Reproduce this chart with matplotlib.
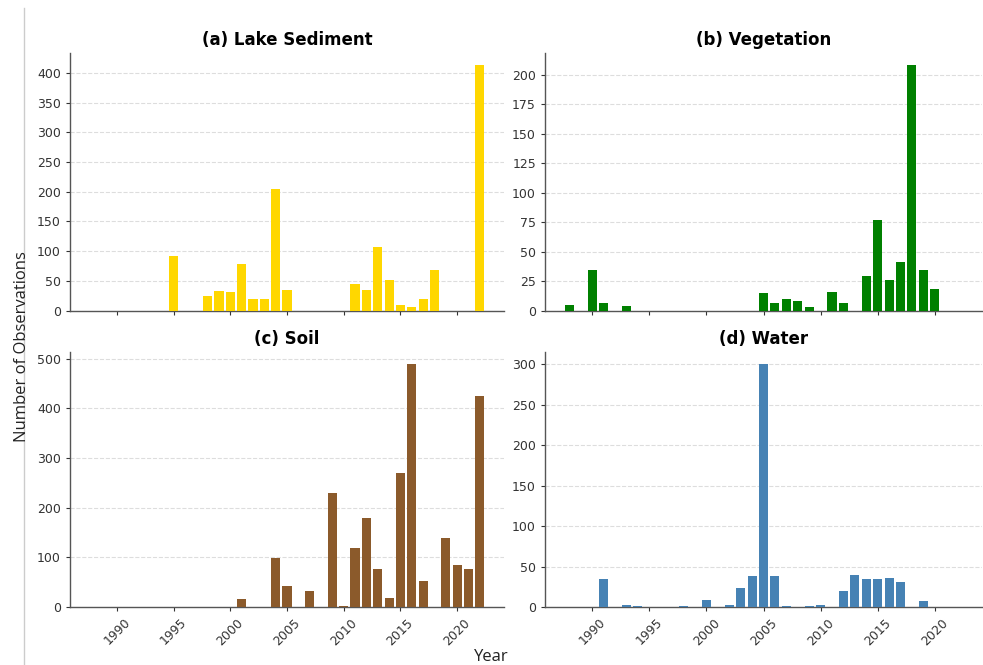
import matplotlib
matplotlib.use("Agg")
import matplotlib.pyplot as plt
from matplotlib.lines import Line2D

# ---- data ----
lake_years = [1995, 1998, 1999, 2000, 2001, 2002, 2003, 2004, 2005,
              2011, 2012, 2013, 2014, 2015, 2016, 2017, 2018, 2022]
lake_vals = [92, 25, 32, 31, 79, 19, 20, 204, 35,
             44, 35, 107, 52, 10, 6, 20, 69, 413]

veg_years = [1988, 1990, 1991, 1993, 2005, 2006, 2007, 2008, 2009,
             2011, 2012, 2014, 2015, 2016, 2017, 2018, 2019, 2020]
veg_vals = [5, 34, 6, 4, 15, 6, 10, 8, 3,
            16, 6, 29, 77, 26, 41, 208, 34, 18]

soil_years = [2001, 2004, 2005, 2007, 2009, 2010, 2011, 2012, 2013,
              2014, 2015, 2016, 2017, 2019, 2020, 2021, 2022]
soil_vals = [17, 99, 43, 32, 230, 3, 119, 180, 77,
             19, 269, 489, 53, 139, 85, 77, 425]

water_years = [1991, 1993, 1994, 1998, 2000, 2002, 2003, 2004, 2005, 2006,
               2007, 2009, 2010, 2012, 2013, 2014, 2015, 2016, 2017, 2019]
water_vals = [34, 3, 1, 1, 9, 2, 24, 38, 300, 38,
              1, 1, 2, 20, 40, 34, 34, 36, 31, 8]

titles = ["(a) Lake Sediment", "(b) Vegetation", "(c) Soil", "(d) Water"]
colors = ["#FFD700", "#008000", "#8B5A2B", "#4682B4"]
xticks = [1990, 1995, 2000, 2005, 2010, 2015, 2020]

W, H = 983, 665
fig = plt.figure(figsize=(W / 100, H / 100), dpi=100)

def box(l, r, t, b):
    return [l / W, 1 - b / H, (r - l) / W, (b - t) / H]

ax_a = fig.add_axes(box(70, 504, 53, 310.5))
ax_b = fig.add_axes(box(545, 982, 53, 310.5), sharex=ax_a)
ax_c = fig.add_axes(box(70, 504, 352, 607), sharex=ax_a)
ax_d = fig.add_axes(box(545, 982, 352, 607), sharex=ax_a)
axes = [ax_a, ax_b, ax_c, ax_d]

series = [(lake_years, lake_vals), (veg_years, veg_vals),
          (soil_years, soil_vals), (water_years, water_vals)]

for ax, (yrs, vals), col, title in zip(axes, series, colors, titles):
    ax.bar(yrs, vals, width=0.8, color=col, zorder=3)
    ax.set_title(title, fontsize=12, fontweight="bold", pad=6)
    ax.grid(axis="y", linestyle="--", color="#dddddd", linewidth=0.8, zorder=0)
    ax.spines["top"].set_visible(False)
    ax.spines["right"].set_visible(False)
    for s in ("left", "bottom"):
        ax.spines[s].set_color("#555555")
        ax.spines[s].set_linewidth(1.0)
    ax.tick_params(axis="both", labelsize=9, colors="#333333", length=3)
    ax.set_xticks(xticks)

for ax in (ax_a, ax_b):
    ax.tick_params(axis="x", labelbottom=False)
for ax in (ax_c, ax_d):
    ax.tick_params(axis="x", labelrotation=45)
    for lbl in ax.get_xticklabels():
        lbl.set_ha("center")

fig.text(491 / W, 1 - 657 / H, "Year", ha="center", va="center",
         fontsize=12, family=["Open Sans", "DejaVu Sans"], color="#222222")
fig.text(22 / W, 1 - 347 / H, "Number of Observations", ha="center", va="center",
         rotation=90, fontsize=12, family=["Open Sans", "DejaVu Sans"], color="#222222")

fig.add_artist(Line2D([24 / W, 24 / W], [0, 1 - 8 / H], color="#cccccc", linewidth=1.0))

fig.savefig("out.png", dpi=100)
